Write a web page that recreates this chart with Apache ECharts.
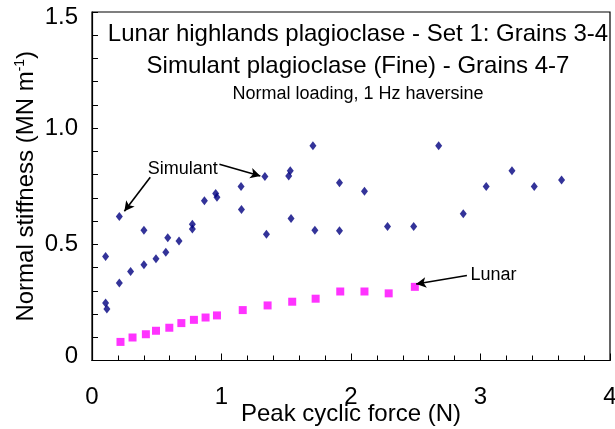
<!DOCTYPE html>
<html>
<head>
<meta charset="utf-8">
<script src="https://cdn.jsdelivr.net/npm/echarts@6/dist/echarts.min.js"></script>
<style>html,body{margin:0;padding:0;background:#fff;}#c{width:615px;height:429px;}</style>
</head>
<body>
<div id="c"></div>
<script>
const simulantX = [0.105,0.105,0.115,0.211,0.211,0.298,0.401,0.401,0.494,0.570,0.585,0.672,0.775,0.775,0.868,0.955,0.965,1.151,1.154,1.335,1.347,1.519,1.531,1.537,1.706,1.721,1.911,1.911,2.104,2.282,2.484,2.677,2.867,3.044,3.243,3.415,3.626];
const simulantY = [0.448,0.247,0.222,0.620,0.334,0.383,0.561,0.412,0.438,0.466,0.528,0.514,0.586,0.566,0.688,0.719,0.703,0.749,0.650,0.792,0.543,0.794,0.817,0.611,0.924,0.561,0.765,0.558,0.728,0.577,0.577,0.924,0.632,0.749,0.817,0.749,0.777];
const lunarX = [0.220,0.313,0.416,0.494,0.597,0.690,0.787,0.877,0.965,1.164,1.356,1.546,1.727,1.917,2.104,2.291,2.493];
const lunarY = [0.080,0.099,0.113,0.128,0.141,0.161,0.175,0.185,0.194,0.217,0.237,0.253,0.266,0.297,0.297,0.289,0.317];
const titleLines = ['Lunar highlands plagioclase - Set 1: Grains 3-4','Simulant plagioclase (Fine) - Grains 4-7','Normal loading, 1 Hz haversine'];
const xTitle = 'Peak cyclic force (N)';

const FONT = 'Liberation Sans, Arial, sans-serif';
const chart = echarts.init(document.getElementById('c'), null, {renderer:'canvas'});
const zip = (xs, ys) => xs.map((x,i)=>[x, ys[i]]);
const arrowStyle = {color:'#000', width:1.6, type:'solid'};
const option = {
  animation:false,
  backgroundColor:'#fff',
  grid:{left:92, right:5, top:12, bottom:68.5, show:true, borderColor:'#000', borderWidth:1.2, containLabel:false, outerBoundsMode:'none'},
  title:[
    {text:titleLines[0], left:353, top:17, textAlign:'center', textStyle:{fontFamily:FONT, fontSize:24, fontWeight:'normal', color:'#000'}},
    {text:titleLines[1], left:353, top:49, textAlign:'center', textStyle:{fontFamily:FONT, fontSize:24, fontWeight:'normal', color:'#000'}},
    {text:titleLines[2], left:353, top:80, textAlign:'center', textStyle:{fontFamily:FONT, fontSize:18, fontWeight:'normal', color:'#000'}}
  ],
  xAxis:{
    type:'value', min:0, max:4, interval:1,
    name:xTitle, nameLocation:'middle', nameGap:42, nameMoveOverlap:false,
    nameTextStyle:{fontFamily:FONT, fontSize:24, color:'#000'},
    axisLine:{lineStyle:{color:'#000', width:1.2}},
    axisTick:{inside:true, length:7, lineStyle:{color:'#000'}},
    minorTick:{show:true, splitNumber:5, length:5, lineStyle:{color:'#000'}},
    axisLabel:{margin:25, fontFamily:FONT, fontSize:24, color:'#000'},
    splitLine:{show:false}
  },
  yAxis:{
    type:'value', min:0, max:1.5, interval:0.5,
    name:'{a|Normal stiffness (MN m}{b|-1}{a|)}', nameLocation:'middle', nameGap:53, nameMoveOverlap:false,
    nameTextStyle:{fontFamily:FONT, fontSize:24, color:'#000',
      rich:{a:{fontFamily:FONT, fontSize:24, color:'#000'}, b:{fontFamily:FONT, fontSize:14, color:'#000', verticalAlign:'top', padding:[0,0,12,0]}}},
    axisLine:{lineStyle:{color:'#000', width:1.2}},
    axisTick:{inside:true, length:6, lineStyle:{color:'#000'}},
    minorTick:{show:true, splitNumber:5, length:6, lineStyle:{color:'#000'}},
    axisLabel:{margin:14, fontFamily:FONT, fontSize:24, color:'#000',
      formatter:v=> v===0 ? '{lo|0}' : (v===1.5 ? '{hi|1.5}' : v.toFixed(1)),
      rich:{lo:{fontFamily:FONT, fontSize:24, color:'#000', padding:[0,0,8,0]}, hi:{fontFamily:FONT, fontSize:24, color:'#000', padding:[10,0,0,0]}}},
    splitLine:{show:false}
  },
  series:[
    {type:'scatter', name:'Simulant', data:zip(simulantX, simulantY), symbol:'diamond', symbolSize:[7,9],
      itemStyle:{color:'#000080'},
      markLine:{silent:true, symbol:['none','arrow'], symbolSize:[8,10], lineStyle:arrowStyle, label:{show:false},
        data:[
          [{coord:[0.45,0.789]},{coord:[0.25,0.642]}],
          [{coord:[0.984,0.845]},{coord:[1.30,0.794]}]
        ]},
      markPoint:{symbol:'circle', symbolSize:0, label:{show:true, formatter:'Simulant', fontFamily:FONT, fontSize:18, color:'#000', position:'inside'},
        data:[{coord:[0.70,0.825]}]}
    },
    {type:'scatter', name:'Lunar', data:zip(lunarX, lunarY), symbol:'rect', symbolSize:8,
      itemStyle:{color:'#ff00ff'},
      markLine:{silent:true, symbol:['none','arrow'], symbolSize:[8,10], lineStyle:arrowStyle, label:{show:false},
        data:[[{coord:[2.895,0.366]},{coord:[2.503,0.329]}]]},
      markPoint:{symbol:'circle', symbolSize:0, label:{show:true, formatter:'Lunar', fontFamily:FONT, fontSize:18, color:'#000', position:'inside'},
        data:[{coord:[3.10,0.37]}]}
    }
  ]
};
chart.setOption(option);
</script>
</body>
</html>
